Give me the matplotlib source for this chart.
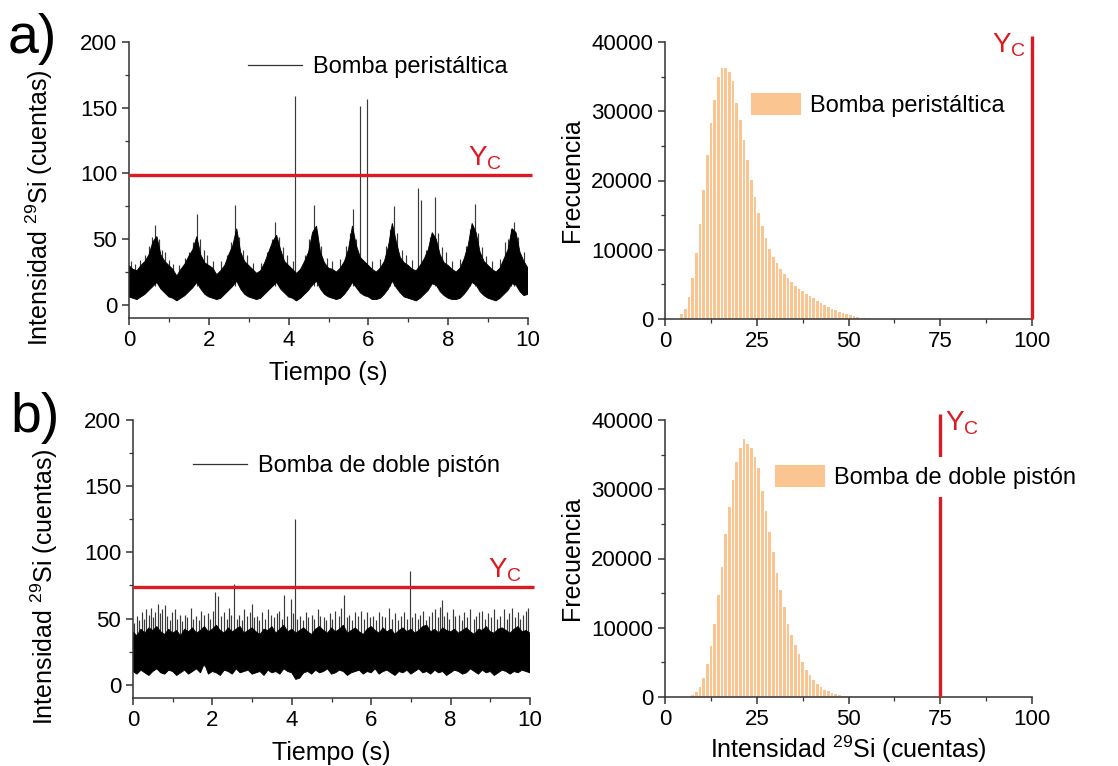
import numpy as np
import matplotlib.pyplot as plt
from matplotlib.lines import Line2D
from matplotlib.patches import Patch
from matplotlib.ticker import MultipleLocator

plt.rcParams['font.family'] = ['Liberation Sans', 'DejaVu Sans']
plt.rcParams['mathtext.fontset'] = 'custom'
plt.rcParams['mathtext.rm'] = 'Liberation Sans'
plt.rcParams['mathtext.it'] = 'Liberation Sans:italic'
plt.rcParams['mathtext.bf'] = 'Liberation Sans:bold'

# ---- data ----
# a) peristaltic pump: envelope of the noisy trace, every 0.1 s from 0 to 10 s
env_a_upper = [30, 27, 26, 30, 33, 38, 48, 52, 38, 33, 30, 27, 22, 27, 31, 37, 42, 52, 38, 32,
               30, 28, 23, 26, 30, 38, 45, 58, 40, 33, 30, 27, 24, 26, 32, 40, 48, 53, 42, 33,
               30, 27, 24, 27, 33, 40, 55, 60, 40, 32, 28, 27, 25, 28, 33, 42, 60, 45, 36, 33,
               30, 27, 25, 28, 33, 44, 62, 48, 36, 32, 30, 27, 26, 30, 35, 42, 55, 50, 38, 32,
               30, 27, 25, 28, 35, 45, 62, 55, 40, 33, 30, 27, 25, 28, 35, 42, 58, 55, 40, 33, 28]
env_a_lower = [6, 5, 4, 6, 8, 11, 14, 17, 12, 9, 6, 5, 3, 5, 7, 10, 13, 17, 12, 8,
               6, 5, 4, 5, 8, 11, 14, 18, 12, 8, 6, 5, 4, 5, 8, 11, 14, 17, 12, 9,
               6, 5, 3, 5, 8, 11, 15, 18, 12, 8, 6, 5, 4, 5, 8, 12, 17, 13, 9, 7,
               6, 4, 4, 5, 8, 12, 18, 13, 9, 6, 5, 4, 3, 5, 8, 11, 16, 15, 10, 7,
               5, 4, 4, 5, 8, 12, 17, 15, 10, 7, 5, 4, 3, 5, 8, 11, 16, 15, 10, 7, 8]
# single spikes above the band: (time s, counts)
spikes_a = [(0.05, 33), (0.15, 31), (0.28, 34), (0.40, 38), (0.50, 45), (0.58, 52), (0.66, 61),
            (0.74, 50), (0.82, 42), (0.90, 40), (1.00, 34), (1.10, 31), (1.25, 30), (1.40, 36),
            (1.50, 40), (1.60, 48), (1.71, 69), (1.78, 50), (1.88, 42), (1.95, 38), (2.10, 33),
            (2.30, 33), (2.45, 38), (2.55, 48), (2.66, 76), (2.75, 52), (2.85, 42), (2.95, 38),
            (3.10, 32), (3.30, 32), (3.45, 40), (3.58, 50), (3.67, 63), (3.75, 52), (3.85, 44),
            (3.95, 38), (4.10, 33), (4.17, 159), (4.40, 38), (4.52, 50), (4.63, 76), (4.72, 55),
            (4.82, 45), (4.95, 36), (5.10, 33), (5.30, 35), (5.45, 45), (5.55, 55), (5.62, 73),
            (5.70, 50), (5.80, 151), (5.97, 157), (6.10, 33), (6.30, 35), (6.45, 45), (6.55, 58),
            (6.63, 75), (6.72, 55), (6.85, 42), (6.95, 38), (7.10, 34), (7.24, 89), (7.32, 80),
            (7.45, 42), (7.55, 52), (7.66, 82), (7.75, 55), (7.85, 44), (7.95, 40), (8.10, 33),
            (8.30, 35), (8.45, 45), (8.55, 58), (8.66, 77), (8.75, 55), (8.85, 44), (8.95, 37),
            (9.10, 33), (9.30, 35), (9.42, 48), (9.50, 50), (9.58, 58), (9.66, 63), (9.75, 52),
            (9.90, 40)]
yc_a = 99

# b) double-piston pump
env_b_upper = [40, 37, 42, 39, 43, 41, 44, 40, 38, 42, 39, 41, 37, 42, 40, 43, 39, 41, 44, 40,
               42, 45, 41, 39, 43, 40, 42, 44, 39, 41, 43, 40, 38, 42, 41, 44, 39, 42, 45, 40,
               42, 39, 41, 43, 40, 38, 42, 44, 41, 39, 43, 40, 42, 45, 39, 41, 43, 40, 38, 42,
               44, 41, 39, 43, 40, 42, 38, 41, 43, 40, 42, 39, 41, 44, 45, 40, 42, 39, 43, 41,
               40, 42, 39, 41, 43, 40, 38, 42, 41, 44, 40, 39, 42, 43, 41, 39, 42, 44, 40, 41, 39]
env_b_lower = [10, 8, 11, 9, 7, 10, 12, 9, 8, 11, 10, 7, 9, 11, 8, 10, 12, 9, 16, 8,
               10, 9, 7, 11, 10, 8, 12, 9, 10, 11, 8, 9, 10, 7, 11, 9, 10, 8, 12, 10,
               9, 4, 5, 9, 10, 8, 11, 9, 10, 12, 8, 9, 11, 10, 7, 9, 10, 11, 8, 10,
               9, 12, 8, 10, 11, 9, 7, 10, 9, 11, 8, 10, 12, 9, 10, 8, 11, 9, 10, 7,
               9, 11, 10, 8, 9, 12, 10, 8, 11, 9, 10, 7, 9, 11, 10, 8, 10, 9, 11, 10, 9]
spikes_b = [(0.03, 47), (0.10, 52), (0.16, 49), (0.22, 55), (0.28, 50), (0.33, 57), (0.40, 53),
            (0.45, 58), (0.50, 51), (0.56, 55), (0.62, 61), (0.68, 54), (0.73, 57), (0.80, 60),
            (0.86, 52), (0.92, 49), (0.98, 55), (1.05, 57), (1.12, 50), (1.18, 53), (1.24, 48),
            (1.30, 53), (1.37, 51), (1.45, 58), (1.52, 50), (1.58, 52), (1.65, 49), (1.72, 56),
            (1.80, 53), (1.88, 54), (1.95, 50), (2.01, 56), (2.06, 70), (2.15, 67), (2.22, 52),
            (2.30, 55), (2.36, 50), (2.42, 58), (2.48, 53), (2.55, 76), (2.62, 50), (2.68, 53),
            (2.74, 49), (2.80, 57), (2.88, 52), (2.94, 55), (3.00, 61), (3.06, 51), (3.12, 52),
            (3.18, 49), (3.25, 55), (3.32, 50), (3.40, 57), (3.47, 53), (3.55, 51), (3.62, 54),
            (3.68, 56), (3.75, 50), (3.81, 68), (3.88, 52), (3.97, 65), (4.02, 54), (4.07, 125),
            (4.14, 50), (4.20, 52), (4.27, 49), (4.35, 55), (4.42, 51), (4.50, 53), (4.57, 50),
            (4.65, 57), (4.72, 52), (4.80, 51), (4.87, 49), (4.95, 54), (5.02, 50), (5.10, 56),
            (5.18, 52), (5.24, 58), (5.31, 68), (5.38, 51), (5.45, 53), (5.52, 49), (5.60, 55),
            (5.67, 52), (5.75, 56), (5.82, 50), (5.90, 55), (5.97, 51), (6.05, 52), (6.12, 49),
            (6.20, 55), (6.28, 52), (6.35, 51), (6.45, 58), (6.52, 50), (6.60, 54), (6.67, 49),
            (6.75, 52), (6.82, 55), (6.90, 50), (6.97, 86), (7.04, 51), (7.10, 54), (7.18, 50),
            (7.24, 53), (7.30, 56), (7.38, 49), (7.45, 52), (7.52, 55), (7.60, 57), (7.68, 51),
            (7.74, 59), (7.78, 64), (7.84, 52), (7.90, 55), (7.97, 50), (8.05, 57), (8.12, 52),
            (8.20, 53), (8.28, 49), (8.35, 55), (8.42, 51), (8.50, 57), (8.58, 50), (8.65, 52),
            (8.72, 55), (8.80, 56), (8.87, 50), (8.95, 54), (9.02, 51), (9.10, 57), (9.17, 50),
            (9.25, 52), (9.35, 57), (9.42, 50), (9.48, 54), (9.55, 58), (9.62, 51), (9.70, 55),
            (9.76, 50), (9.82, 53), (9.90, 56), (9.95, 58)]
yc_b = 74

# histograms: counts per 1-count-wide bin, first bin given by *_start
hist_a_start = 4
hist_a_counts = [670, 1500, 3200, 5900, 9600, 13700, 18700, 23700, 28300, 31600, 35000, 36300,
                 36300, 35700, 34300, 31200, 28800, 25800, 23000, 20100, 17600, 15300, 13400,
                 11700, 10100, 9000, 8100, 7200, 6500, 5900, 5300, 4800, 4400, 4000, 3600, 3300,
                 3000, 2600, 2300, 2000, 1750, 1500, 1300, 1050, 860, 720, 570, 430, 300, 200,
                 140, 100, 60, 30]
hist_b_start = 7
hist_b_counts = [240, 700, 1500, 2800, 4800, 7300, 10600, 14700, 18800, 23600, 27400, 31300,
                 33900, 35900, 37200, 36600, 35900, 34700, 33000, 29800, 26800, 23800, 20900,
                 17900, 15500, 13000, 10600, 9000, 7500, 6200, 5000, 3900, 3200, 2500, 1900,
                 1400, 1050, 800, 580, 420, 290, 190, 130, 80]
yc_hist_a = 100
yc_hist_b = 75

labels = ["Bomba peristáltica", "Bomba de doble pistón"]

RED = "#DD1A22"
BAR = "#FAC590"
W, H = 1118, 766
TICK_FS = 16
LABEL_FS = 18
LEG_FS = 17
YC_FS = 20
YC = r"$\mathregular{Y_C}$"


def style(ax):
    for s in ("top", "right"):
        ax.spines[s].set_visible(False)
    for s in ("left", "bottom"):
        ax.spines[s].set_linewidth(1.1)
        ax.spines[s].set_color("#333333")
    ax.tick_params(which="major", direction="out", length=5, width=1.1,
                   labelsize=TICK_FS, colors="#333333", labelcolor="black")
    ax.tick_params(which="minor", direction="out", length=3, width=0.9, colors="#333333")


def px(l, b, r, t):
    return [l / W, 1 - b / H, (r - l) / W, (b - t) / H]


fig = plt.figure(figsize=(W / 100, H / 100), dpi=100)

ax_a = fig.add_axes(px(129, 318, 528, 42))
ax_ha = fig.add_axes(px(665, 319, 1032, 42))
ax_b = fig.add_axes(px(133, 698, 530, 420))
ax_hb = fig.add_axes(px(665, 697, 1032, 420))

# --- time traces ---
for ax, up, lo, spikes, yc, lab, leg_xy, yc_x in (
        (ax_a, env_a_upper, env_a_lower, spikes_a, yc_a, labels[0], (248, 67), 9.35),
        (ax_b, env_b_upper, env_b_lower, spikes_b, yc_b, labels[1], (193, 466), 9.8)):
    t_up = np.linspace(0, 10, len(up))
    t_lo = np.linspace(0, 10, len(lo))
    # spikes first, band on top so only the part above the band shows
    st, sy = zip(*spikes)
    ax.vlines(st, 14, sy, color="#3a3a3a", lw=0.85, zorder=2)
    ax.fill(np.r_[t_up, t_lo[::-1]], np.r_[up, lo[::-1]], color="black", lw=0.6, zorder=2.5)
    ax.hlines(yc, 0, 10.1, color=RED, lw=2.4, zorder=3, clip_on=False)
    ax.text(yc_x, yc + 2, YC, color=RED, fontsize=YC_FS, ha="right", va="bottom")
    ax.set_xlim(0, 10)
    ax.set_ylim(-10, 200)
    ax.xaxis.set_major_locator(MultipleLocator(2))
    ax.xaxis.set_minor_locator(MultipleLocator(1))
    ax.yaxis.set_major_locator(MultipleLocator(50))
    ax.yaxis.set_minor_locator(MultipleLocator(25))
    style(ax)
    ax.set_xlabel("Tiempo (s)", fontsize=LABEL_FS, labelpad=7)
    ax.set_ylabel(r"Intensidad $^{29}$Si (cuentas)", fontsize=LABEL_FS)
    ax.yaxis.set_label_coords(-0.185, 0.40)
    ax.legend(handles=[Line2D([], [], color="#333333", lw=0.9)], labels=[lab],
              loc="center left", bbox_to_anchor=(leg_xy[0] / W, 1 - leg_xy[1] / H),
              bbox_transform=fig.transFigure, frameon=False, fontsize=LEG_FS,
              handlelength=2.3, handletextpad=0.45, borderpad=0, borderaxespad=0)

# --- histograms ---
for ax, start, counts, yc, lab, leg_xy in (
        (ax_ha, hist_a_start, hist_a_counts, yc_hist_a, labels[0], (743, 105)),
        (ax_hb, hist_b_start, hist_b_counts, yc_hist_b, labels[1], (767, 477))):
    centers = np.arange(start, start + len(counts)) + 0.5
    ax.bar(centers, counts, width=0.72, color=BAR, lw=0, zorder=2)
    ax.vlines(yc, 0, 40900, color=RED, lw=2.4, zorder=3, clip_on=False)
    ax.set_xlim(0, 100)
    ax.set_ylim(0, 40000)
    ax.xaxis.set_major_locator(MultipleLocator(25))
    ax.xaxis.set_minor_locator(MultipleLocator(12.5))
    ax.yaxis.set_major_locator(MultipleLocator(10000))
    ax.yaxis.set_minor_locator(MultipleLocator(5000))
    style(ax)
    ax.set_ylabel("Frecuencia", fontsize=LABEL_FS, labelpad=5)
    ax.legend(handles=[Patch(facecolor=BAR, edgecolor="none")], labels=[lab],
              loc="center left", bbox_to_anchor=(leg_xy[0] / W, 1 - leg_xy[1] / H),
              bbox_transform=fig.transFigure, frameon=True, facecolor="white",
              edgecolor="none", framealpha=1, fancybox=False, fontsize=LEG_FS,
              handlelength=2.1, handleheight=1.05, handletextpad=0.4,
              borderpad=0.35, borderaxespad=0)

ax_ha.text(98.3, 41500, YC, color=RED, fontsize=YC_FS, ha="right", va="top")
ax_hb.text(76.2, 41500, YC, color=RED, fontsize=YC_FS, ha="left", va="top")
ax_hb.set_xlabel(r"Intensidad $^{29}$Si (cuentas)", fontsize=LABEL_FS, labelpad=3)

fig.text(8 / W, 1 - 53 / H, "a)", fontsize=40, ha="left", va="baseline")
fig.text(10 / W, 1 - 432 / H, "b)", fontsize=40, ha="left", va="baseline")

fig.savefig("out.png", dpi=100)
